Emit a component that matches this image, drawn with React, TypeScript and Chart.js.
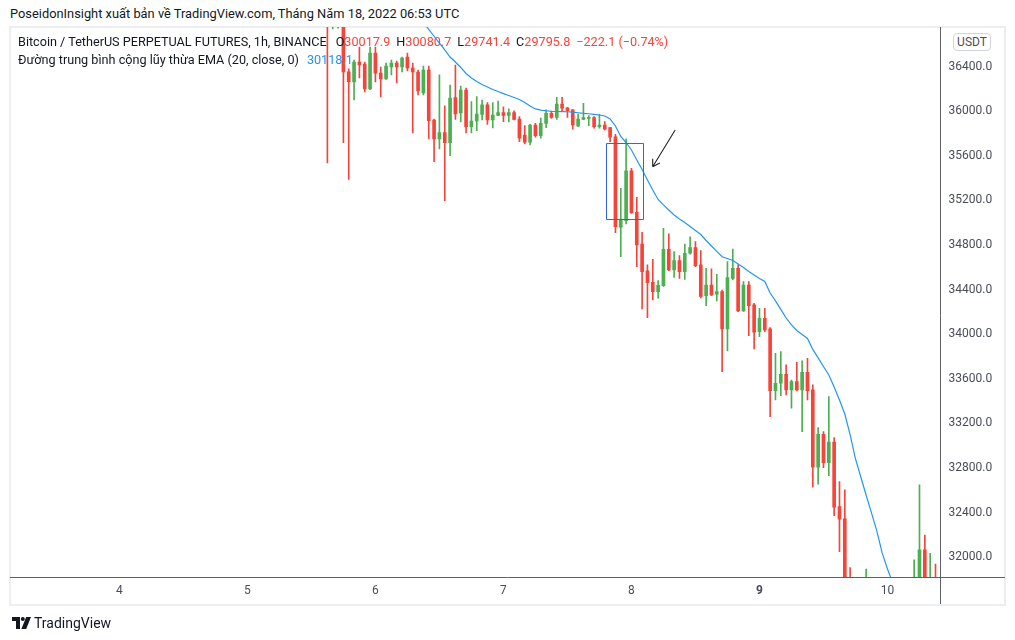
import React, { useEffect, useRef } from 'react';
import { Chart, registerables } from 'chart.js';

Chart.register(...registerables);

// ---- data -------------------------------------------------------------
// hourly candles; first candle is 39 hours after day "4" 00:00
const FIRST_HOUR = 39;

const opens = [
  37000, 36850, 36800, 36950, 36355, 36263, 36442, 36424, 36200, 36523,
  36343, 36290, 36397, 36433, 36397, 36487, 36388, 36352, 36164, 36370,
  35922, 35752, 35808, 35718, 36122, 35985, 36191, 35862, 35913, 35973,
  36057, 35922, 35964, 35988, 35964, 35988, 35931, 35787, 35722, 35877,
  35781, 35892, 35982, 35946, 36065, 36032, 36012, 35868, 35928, 35937,
  35943, 35862, 35877, 35853, 35772, 34960, 35019, 35467, 35094, 34810,
  34568, 34466, 34382, 34436, 34762, 34577, 34660, 34562, 34727, 34777,
  34622, 34346, 34442, 34359, 34382, 34048, 34502, 34592, 34209, 34442,
  34263, 34024, 34144, 34048, 33494, 33561, 33641, 33501, 33575, 33501,
  33659, 33501, 32807, 33103, 32849, 33032, 32454, 32344, 31500, 31250,
  31000, 30750, 31300, 30700, 30300, 30500, 30700, 31000, 31200, 31400,
  31500, 31750, 32066, 31700, 31800,
];
const highs = [
  37050, 37100, 37000, 37000, 36380, 36460, 36577, 36442, 36577, 36577,
  36397, 36433, 36460, 36451, 36487, 36523, 36433, 36370, 36406, 36406,
  35930, 36326, 36050, 36236, 36415, 36227, 36209, 36086, 36131, 36101,
  36077, 36077, 36092, 36041, 36021, 36005, 35952, 35871, 35883, 35892,
  35940, 36012, 36003, 36126, 36126, 36035, 36015, 35976, 36072, 35961,
  35952, 35973, 35907, 35855, 35794, 35310, 35752, 35489, 35229, 34915,
  34622, 34673, 34481, 34951, 34900, 34741, 34705, 34810, 34875, 34831,
  34750, 34592, 34586, 34538, 34397, 34651, 34765, 34622, 34472, 34472,
  34278, 34233, 34233, 34059, 33830, 33844, 33725, 33590, 33749, 33761,
  33785, 33546, 33163, 33127, 33441, 33073, 32678, 32604, 31907, 31600,
  31400, 31895, 31500, 31000, 30700, 30900, 31200, 31500, 31600, 31700,
  31976, 32649, 32200, 32036, 31940,
];
const lows = [
  35536, 36738, 36745, 35718, 35390, 36101, 36299, 36173, 36195, 36263,
  36128, 36285, 36326, 36254, 36352, 36361, 35805, 36146, 36146, 35752,
  35548, 35662, 35198, 35602, 35928, 35904, 35805, 35805, 35826, 35922,
  35883, 35850, 35960, 35907, 35904, 35922, 35727, 35707, 35698, 35767,
  35760, 35853, 35937, 35928, 35996, 35946, 35839, 35862, 35925, 35871,
  35848, 35848, 35832, 35727, 34911, 34696, 34989, 35085, 34606, 34227,
  34149, 34308, 34323, 34430, 34570, 34511, 34502, 34493, 34718, 34606,
  34326, 34257, 34346, 34299, 33665, 33850, 34487, 34203, 34205, 33988,
  33868, 33979, 34024, 33261, 33411, 33449, 33456, 33337, 33492, 33127,
  33411, 32628, 32655, 32804, 32732, 32373, 32050, 31300, 31100, 30800,
  30600, 30700, 30500, 30100, 29900, 30200, 30500, 30800, 31000, 31200,
  31400, 31700, 31500, 31500, 31600,
];
const closes = [
  36800, 37000, 36950, 36352, 36265, 36442, 36415, 36200, 36523, 36343,
  36290, 36406, 36433, 36397, 36478, 36388, 36352, 36182, 36370, 35916,
  35752, 35808, 35718, 36119, 35976, 36191, 35862, 35913, 35976, 36057,
  35922, 35967, 35988, 35964, 35988, 35928, 35760, 35722, 35877, 35781,
  35892, 35982, 35946, 36065, 36027, 36005, 35877, 35931, 35943, 35946,
  35862, 35877, 35839, 35767, 34965, 35025, 35467, 35091, 34801, 34562,
  34463, 34382, 34440, 34762, 34577, 34660, 34562, 34727, 34777, 34615,
  34340, 34442, 34353, 34382, 34048, 34508, 34592, 34209, 34442, 34257,
  34018, 34144, 34039, 33494, 33561, 33641, 33501, 33575, 33501, 33659,
  33494, 32807, 33103, 32849, 33032, 32449, 32341, 31500, 31250, 31000,
  30750, 31300, 30700, 30300, 30500, 30700, 31000, 31200, 31400, 31500,
  31750, 32066, 31700, 31800, 31650,
];
// EMA(20, close), one value per candle (null = not readable)
const ema20 = [
  null, null, null, null, null, null, null, null, null, null,
  null, null, null, null, null, 36990, 36920, 36860, 36797, 36735,
  36673, 36611, 36550, 36487, 36442, 36393, 36339, 36299, 36267, 36240,
  36218, 36196, 36178, 36158, 36142, 36124, 36106, 36079, 36048, 36021,
  36010, 36005, 36000, 35998, 35997, 35996, 35992, 35987, 35982, 35978,
  35973, 35967, 35958, 35931, 35868, 35774, 35720, 35653, 35563, 35478,
  35384, 35294, 35209, 35160, 35115, 35070, 35034, 35003, 34967, 34931,
  34895, 34841, 34792, 34743, 34695, 34680, 34662, 34631, 34599, 34563,
  34532, 34501, 34474, 34370, 34299, 34223, 34146, 34084, 34034, 33998,
  33963, 33864, 33788, 33711, 33635, 33527, 33411, 33285, 33097, 32882,
  32720, 32556, 32398, 32236, 32039, 31895, 31769, 31620, 31490, 31380,
  31290, 31230, 31160, 31100, 31040,
];

const dayTickHours = [0, 24, 48, 72, 96, 120, 144];
const dayTickLabels = ['4', '5', '6', '7', '8', '9', '10'];
const boldDayLabel = '9';
const priceTicks = [32000, 32400, 32800, 33200, 33600, 34000, 34400, 34800, 35200, 35600, 36000, 36400];

const X_MIN = -20.5;
const X_MAX = 153.75;
const Y_MIN = 31823;
const Y_MAX = 36756;

// drawing annotations (data units: hour, price)
const boxHours = [91.2, 98.2];
const boxPrices = [35718, 35040];
const arrowStart = [104.2, 35832];
const arrowTip = [99.98, 35503];

const legendOHLC = [
  ['O', '30017.9'],
  ['H', '30080.7'],
  ['L', '29741.4'],
  ['C', '29795.8'],
];
const legendChange = '\u2212222.1 (\u22120.74%)';
const emaLegendValue = '30118.1';

// ---- styles -----------------------------------------------------------
const UP = '#4caf50';
const DOWN = '#f7443a';
const EMA_COLOR = '#2196f3';
const FONT = "Roboto, 'Liberation Sans', Arial, sans-serif";
const TEXT = '#131722';
const AXIS_TEXT = '#4a4d57';

const overlayPlugin = {
  id: 'overlay',
  afterDatasetsDraw(chart: any) {
    const { ctx, chartArea, scales } = chart;
    const x = scales.x;
    const y = scales.y;
    ctx.save();
    ctx.beginPath();
    ctx.rect(chartArea.left, chartArea.top, chartArea.right - chartArea.left, chartArea.bottom - chartArea.top);
    ctx.clip();
    // rectangle
    const x1 = x.getPixelForValue(boxHours[0]);
    const x2 = x.getPixelForValue(boxHours[1]);
    const y1 = y.getPixelForValue(boxPrices[0]);
    const y2 = y.getPixelForValue(boxPrices[1]);
    ctx.beginPath();
    ctx.strokeStyle = '#2f62f5';
    ctx.lineWidth = 1;
    ctx.rect(Math.round(x1) + 0.5, Math.round(y1) + 0.5, Math.round(x2 - x1), Math.round(y2 - y1));
    ctx.stroke();
    // arrow
    const ax = x.getPixelForValue(arrowStart[0]);
    const ay = y.getPixelForValue(arrowStart[1]);
    const tx = x.getPixelForValue(arrowTip[0]);
    const ty = y.getPixelForValue(arrowTip[1]);
    ctx.strokeStyle = '#222';
    ctx.lineWidth = 1.1;
    ctx.beginPath();
    ctx.moveTo(ax, ay);
    ctx.lineTo(tx, ty);
    const ang = Math.atan2(ty - ay, tx - ax);
    const len = 8;
    ctx.moveTo(tx, ty);
    ctx.lineTo(tx - len * Math.cos(ang - 0.55), ty - len * Math.sin(ang - 0.55));
    ctx.moveTo(tx, ty);
    ctx.lineTo(tx - len * Math.cos(ang + 0.55), ty - len * Math.sin(ang + 0.55));
    ctx.stroke();
    ctx.restore();
  },
  afterDraw(chart: any) {
    const { ctx, chartArea } = chart;
    ctx.save();
    ctx.strokeStyle = '#5d606b';
    ctx.lineWidth = 1;
    ctx.beginPath();
    const by = Math.round(chartArea.bottom) + 0.5;
    ctx.moveTo(chartArea.left, by);
    ctx.lineTo(1005, by);
    const rx = Math.round(chartArea.right) + 0.5;
    ctx.moveTo(rx, chartArea.top);
    ctx.lineTo(rx, 604);
    ctx.stroke();
    ctx.restore();
  },
};

function TVLogo() {
  return (
    <svg width="19" height="12" viewBox="0 0 19 12" style={{ position: 'absolute', left: 12, top: 617 }}>
      <path d="M0 0 H8 V12 H4 V4 H0 Z" fill={TEXT} />
      <circle cx="10.8" cy="2" r="2" fill={TEXT} />
      <path d="M14.2 0 H19 L14.2 12 H9.4 Z" fill={TEXT} />
    </svg>
  );
}

export default function App() {
  const canvasRef = useRef<HTMLCanvasElement | null>(null);

  useEffect(() => {
    const canvas = canvasRef.current;
    if (!canvas) return;
    const colors = opens.map((o, i) => (closes[i] >= o ? UP : DOWN));
    const wickData = opens.map((_, i) => ({ x: FIRST_HOUR + i, y: [lows[i], highs[i]] }));
    const bodyData = opens.map((o, i) => ({ x: FIRST_HOUR + i, y: [o, closes[i]] }));
    const emaData = ema20.map((v, i) => ({ x: FIRST_HOUR + i, y: v }));

    const chart = new Chart(canvas, {
      type: 'bar',
      data: {
        datasets: [
          {
            type: 'line',
            data: emaData as any,
            borderColor: EMA_COLOR,
            borderWidth: 1.2,
            pointRadius: 0,
            tension: 0,
            clip: 0,
            order: 0,
          } as any,
          {
            type: 'bar',
            data: bodyData as any,
            backgroundColor: colors,
            barThickness: 3,
            minBarLength: 1,
            grouped: false,
            borderWidth: 0,
            clip: 0,
            order: 1,
          } as any,
          {
            type: 'bar',
            data: wickData as any,
            backgroundColor: colors,
            barThickness: 1,
            grouped: false,
            borderWidth: 0,
            clip: 0,
            order: 2,
          } as any,
        ],
      },
      options: {
        animation: false,
        responsive: false,
        maintainAspectRatio: false,
        layout: { padding: { left: 10, top: 27, right: 10, bottom: 35 } },
        plugins: { legend: { display: false }, tooltip: { enabled: false } },
        scales: {
          x: {
            type: 'linear',
            min: X_MIN,
            max: X_MAX,
            offset: false,
            grid: { display: false, drawTicks: false },
            border: { display: false },
            afterBuildTicks: (axis: any) => {
              axis.ticks = dayTickHours.map((v) => ({ value: v }));
            },
            afterFit: (axis: any) => {
              axis.height = 28;
            },
            ticks: {
              autoSkip: false,
              maxRotation: 0,
              padding: 7,
              color: AXIS_TEXT,
              font: (ctx: any) => {
                const idx = ctx.tick ? dayTickHours.indexOf(ctx.tick.value) : -1;
                const bold = idx >= 0 && dayTickLabels[idx] === boldDayLabel;
                return { family: FONT, size: 12, weight: bold ? 'bold' : 'normal' };
              },
              callback: (v: any) => {
                const idx = dayTickHours.indexOf(Number(v));
                return idx >= 0 ? dayTickLabels[idx] : '';
              },
            },
          } as any,
          y: {
            type: 'linear',
            position: 'right',
            min: Y_MIN,
            max: Y_MAX,
            grid: { display: false, drawTicks: false },
            border: { display: false },
            afterBuildTicks: (axis: any) => {
              axis.ticks = priceTicks.map((v) => ({ value: v }));
            },
            afterFit: (axis: any) => {
              axis.width = 65.5;
            },
            ticks: {
              autoSkip: false,
              padding: 9,
              color: AXIS_TEXT,
              font: { family: FONT, size: 12 },
              callback: (v: any) => Number(v).toFixed(1),
            },
          } as any,
        },
      },
      plugins: [overlayPlugin],
    });
    return () => chart.destroy();
  }, []);

  return (
    <div
      style={{
        position: 'fixed',
        left: 0,
        top: 0,
        width: 1015,
        height: 640,
        background: '#fff',
        fontFamily: FONT,
        color: TEXT,
        overflow: 'hidden',
      }}
    >
      <div style={{ position: 'absolute', left: 10, top: 6, fontSize: 12.85, lineHeight: '16px', whiteSpace: 'nowrap' }}>
        PoseidonInsight xuất bản về TradingView.com, Tháng Năm 18, 2022 06:53 UTC
      </div>
      <div
        style={{
          position: 'absolute',
          left: 9,
          top: 26,
          width: 997,
          height: 580,
          border: '2px solid #eceef3',
          boxSizing: 'border-box',
        }}
      />
      <canvas ref={canvasRef} width={1015} height={640} style={{ position: 'absolute', left: 0, top: 0 }} />
      <div style={{ position: 'absolute', left: 18, top: 34, fontSize: 12.65, lineHeight: '16px', whiteSpace: 'nowrap' }}>
        <span>Bitcoin / TetherUS PERPETUAL FUTURES, 1h, BINANCE</span>
        {legendOHLC.map(([k, v], i) => (
          <span key={k} style={{ marginLeft: i === 0 ? 9 : 6 }}>
            {k}
            <span style={{ color: DOWN }}>{v}</span>
          </span>
        ))}
        <span style={{ marginLeft: 6, color: DOWN }}>{legendChange}</span>
      </div>
      <div style={{ position: 'absolute', left: 18, top: 52, fontSize: 12.65, lineHeight: '16px', whiteSpace: 'nowrap' }}>
        <span>Đường trung bình cộng lũy thừa EMA (20, close, 0)</span>
        <span style={{ marginLeft: 8, color: EMA_COLOR }}>{emaLegendValue}</span>
      </div>
      <div
        style={{
          position: 'absolute',
          left: 953,
          top: 33,
          width: 38,
          height: 18,
          border: '1px solid #d1d4dc',
          borderRadius: 4,
          boxSizing: 'border-box',
          fontSize: 12,
          lineHeight: '16px',
          textAlign: 'center',
          color: AXIS_TEXT,
          background: '#fff',
        }}
      >
        USDT
      </div>
      <TVLogo />
      <div style={{ position: 'absolute', left: 34, top: 614, fontSize: 14, lineHeight: '18px', color: TEXT }}>TradingView</div>
    </div>
  );
}
